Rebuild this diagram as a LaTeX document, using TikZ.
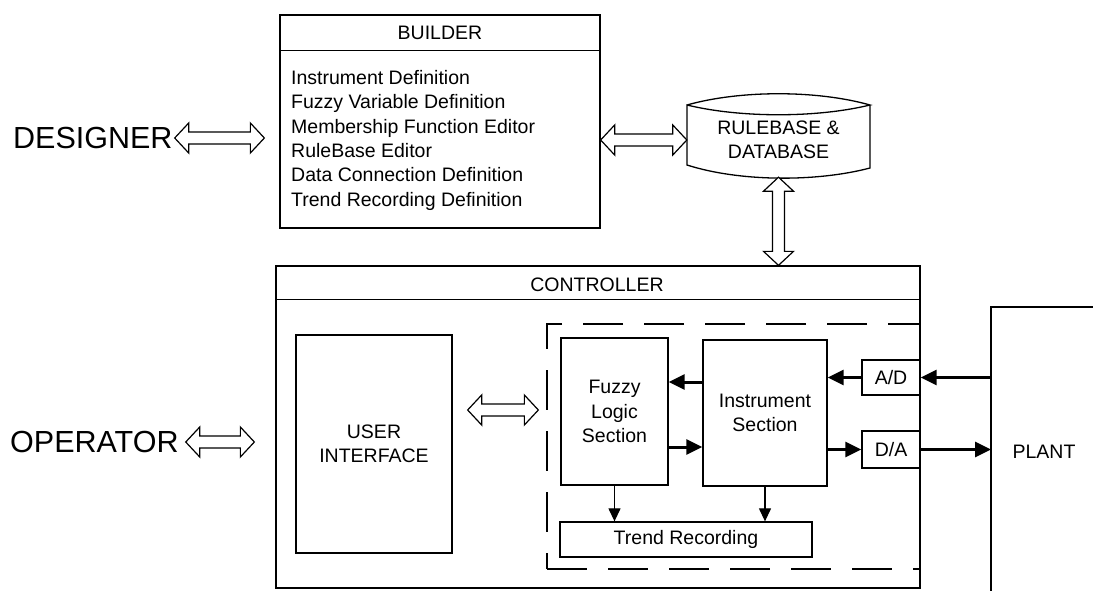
\documentclass[tikz,border=0pt]{standalone}
\usepackage{fontspec}
\setmainfont{Liberation Sans}
\usetikzlibrary{arrows.meta,positioning,calc}
\def\tiplen{14pt}
\def\tiphalf{15pt}
\def\shafthalf{6pt}
% hollow double arrows: left to right, top to bottom
\newcommand{\fatarrowh}[2]{%
  \draw[hollow] let \p1=(#1), \p2=(#2) in
    (\p1) -- (\x1+\tiplen,\y1+\tiphalf) -- (\x1+\tiplen,\y1+\shafthalf)
    -- (\x2-\tiplen,\y1+\shafthalf) -- (\x2-\tiplen,\y1+\tiphalf) -- (\x2,\y1)
    -- (\x2-\tiplen,\y1-\tiphalf) -- (\x2-\tiplen,\y1-\shafthalf)
    -- (\x1+\tiplen,\y1-\shafthalf) -- (\x1+\tiplen,\y1-\tiphalf) -- cycle;}
\newcommand{\fatarrowv}[2]{%
  \draw[hollow] let \p1=(#1), \p2=(#2) in
    (\p1) -- (\x1+\tiphalf,\y1-\tiplen) -- (\x1+\shafthalf,\y1-\tiplen)
    -- (\x1+\shafthalf,\y2+\tiplen) -- (\x1+\tiphalf,\y2+\tiplen) -- (\x1,\y2)
    -- (\x1-\tiphalf,\y2+\tiplen) -- (\x1-\shafthalf,\y2+\tiplen)
    -- (\x1-\shafthalf,\y1-\tiplen) -- (\x1-\tiphalf,\y1-\tiplen) -- cycle;}

\begin{document}
\begin{tikzpicture}[x=1pt,y=-1pt,
  every node/.style={font=\fontsize{19.5}{24.4}\selectfont},
  box/.style={draw,line width=1.3pt,inner sep=0pt,align=center},
  bigtext/.style={inner sep=0pt,font=\fontsize{30.5}{36}\selectfont},
  hollow/.style={draw,line width=1.2pt,fill=white,line join=miter},
  heavy/.style={line width=3pt,-{Triangle[length=16pt,width=15pt]}},
  light/.style={line width=1.2pt,-{Triangle[length=13pt,width=12pt]}}]
  \useasboundingbox (0,0) rectangle (1093,591);

  % builder
  \node[box, minimum width=320pt, minimum height=213pt] (builder) at (440,121.5) {};
  \node (buildtitle) at (440,33) {BUILDER};
  \draw[line width=1.3pt] ([yshift=-36pt]builder.north west) -- ([yshift=-36pt]builder.north east);
  \node[align=left, anchor=north west, inner sep=0pt] (buildlist) at (291,70)
    {Instrument Definition\\Fuzzy Variable Definition\\Membership Function Editor\\RuleBase Editor\\Data Connection Definition\\Trend Recording Definition};

  \node[bigtext, anchor=west] (designer) at (13,138) {DESIGNER};
  \node[bigtext, anchor=west] (operator) at (10,442) {OPERATOR};

  % rulebase drum
  \node[minimum width=183pt, minimum height=74pt, align=center, inner sep=0pt] (rulebase) at (778.5,140) {RULEBASE \&\\DATABASE};
  \draw[line width=1.3pt] (687,105) .. controls (740,90) and (817,90) .. (870,105)
    .. controls (817,118) and (740,118) .. (687,105) -- (687,165)
    .. controls (740,182) and (817,182) .. (870,168) -- (870,105);

  % controller
  \node[box, minimum width=644pt, minimum height=322pt] (controller) at (598,427) {};
  \node (ctrltitle) at (597,285) {CONTROLLER};
  \draw[line width=1.3pt] ([yshift=-34pt]controller.north west) -- ([yshift=-34pt]controller.north east);
  \node[box, minimum width=156pt, minimum height=218pt] (ui) at (374,444) {USER\\INTERFACE};
  \node[draw, dash pattern=on 40pt off 21pt, line width=1.3pt, minimum width=373pt, minimum height=245pt] (logicarea) at (733.5,446.5) {};
  \node[box, minimum width=107pt, minimum height=147pt] (fuzzy) at (614.5,411.5) {Fuzzy\\Logic\\Section};
  \node[box, minimum width=124pt, minimum height=146pt] (inst) at (765,413) {Instrument\\Section};
  \node[box, minimum width=58pt, minimum height=35pt] (ad) at (891,377.5) {A/D};
  \node[box, minimum width=58pt, minimum height=37pt] (da) at (891,449.5) {D/A};
  \node[box, minimum width=252pt, minimum height=35pt] (trend) at (686,539.5) {Trend Recording};

  % plant
  \coordinate (plantcorner) at (991,307);
  \draw[line width=1.3pt] (1093,307) -- (plantcorner) -- (991,591);
  \node (plant) at (1044,452) {PLANT};

  % signal flow
  \coordinate (fbk) at ($(inst.west)+(0,-31)$);
  \coordinate (fwd) at ($(inst.west)+(0,34)$);
  \draw[heavy] (fbk) -- (fbk -| fuzzy.east);
  \draw[heavy] (fwd -| fuzzy.east) -- (fwd);
  \draw[heavy] (ad.west) -- (ad.west -| inst.east);
  \draw[heavy] (inst.east |- da.west) -- (da.west);
  \draw[heavy] (ad.east -| plantcorner) -- (ad.east);
  \draw[heavy] (da.east) -- (da.east -| plantcorner);
  \draw[light] (fuzzy.south) -- (fuzzy.south |- trend.north);
  \draw[light] (inst.south) -- (inst.south |- trend.north);

  % hollow links
  \fatarrowh{$(designer.east)+(2,0)$}{$(designer.east -| builder.west)+(-15,0)$}
  \fatarrowh{builder.east |- rulebase}{rulebase.west}
  \fatarrowv{rulebase.south}{rulebase.south |- controller.north}
  \fatarrowh{$(ui.east)+(15,-34)$}{$(ui.east -| logicarea.west)+(-8,-34)$}
  \fatarrowh{$(operator.east)+(7,0)$}{$(operator.east -| controller.west)+(-21,0)$}
\end{tikzpicture}
\end{document}
